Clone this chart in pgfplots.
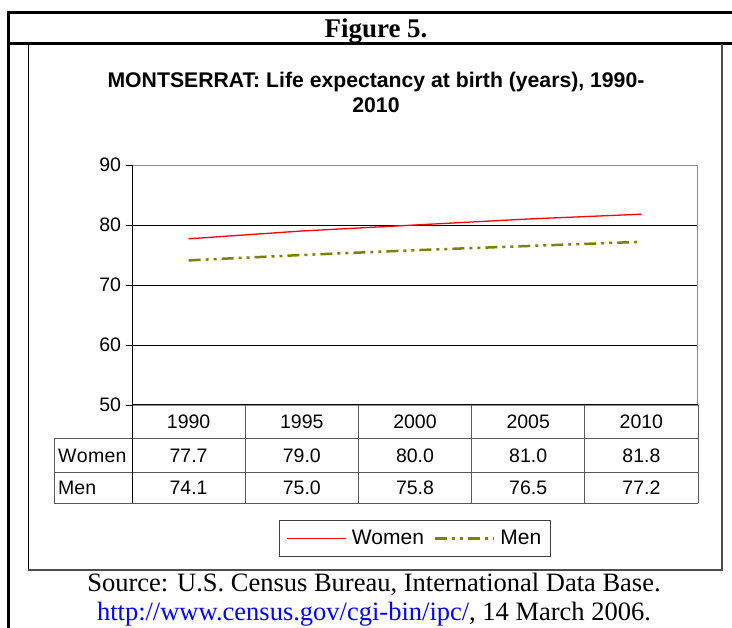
\documentclass[border=0pt]{standalone}
\usepackage{pgfplots}
\pgfplotsset{compat=1.18}
\usepackage{fontspec}
\setmainfont{Liberation Sans}
\newfontfamily\serif{Liberation Serif}
\definecolor{menolive}{RGB}{128,128,0}
\definecolor{urlblue}{RGB}{0,0,255}
\definecolor{tblgray}{RGB}{90,90,90}
\begin{document}
\begin{tikzpicture}
\begin{scope}[x=1pt,y=-1pt]
\useasboundingbox (0,0) rectangle (732,628);
% outer frame
\draw[line width=2.2pt] (7.4,12.5) -- (740,12.5);
\draw[line width=2.2pt] (7.4,43.5) -- (740,43.5);
\draw[line width=2.2pt] (8.5,11.4) -- (8.5,640);
% inner box
\draw[line width=1pt] (28.5,43.5) -- (28.5,570);
\draw[line width=2pt, black!70] (28,570) -- (722,570) -- (722,44.5);
\node[font=\serif\bfseries\fontsize{27}{30}\selectfont, anchor=base] at (376,38) {Figure 5.};
\node[font=\bfseries\fontsize{21.2}{24}\selectfont, anchor=base] at (376,87.5) {MONTSERRAT: Life expectancy at birth (years), 1990-};
\node[font=\bfseries\fontsize{21.2}{24}\selectfont, anchor=base] at (376,112.5) {2010};
% source
\node[font=\serif\fontsize{26.5}{30}\selectfont, anchor=base] at (374,591) {Source: U.S. Census Bureau, International Data Base.};
\node[font=\serif\fontsize{26.5}{30}\selectfont, anchor=base] at (374,620) {{\color{urlblue}http://www.census.gov/cgi-bin/ipc/}, 14 March 2006.};
\end{scope}

\begin{axis}[
  at={(132pt,-405pt)}, anchor=south west,
  scale only axis, width=566pt, height=240pt,
  xmin=-0.5, xmax=4.5, ymin=50, ymax=90,
  xtick=\empty, ytick={50,60,70,80,90}, ytick pos=left,
  ymajorgrids, grid style={black, line width=0.8pt},
  axis line style={black!45, line width=1pt},
  tick align=outside, major tick length=6pt,
  ytick style={black, line width=0.8pt},
  yticklabel style={font=\fontsize{19.5}{22}\selectfont, xshift=-1.5pt},
  /pgf/number format/assume math mode=true,
  clip=false,
  legend columns=2,
  legend style={at={(0.5,-0.55625)}, anchor=center, draw=black!75, line width=1pt,
    font=\fontsize{21}{25}\selectfont, inner xsep=7pt, inner ysep=8pt,
    /tikz/every odd column/.append style={column sep=3pt},
    /tikz/every even column/.append style={column sep=8pt}},
  legend image code/.code={\draw[#1] (0pt,0pt) -- (59pt,0pt);},
]
\addplot[red, line width=1.3pt] coordinates {(0,77.7) (1,79.0) (2,80.0) (3,81.0) (4,81.8)};
\addlegendentry{Women}
\addplot[menolive, line width=2.5pt, dash pattern=on 12pt off 5pt on 3pt off 5pt on 3pt off 5pt] coordinates {(0,74.1) (1,75.0) (2,75.8) (3,76.5) (4,77.2)};
\addlegendentry{Men}
\end{axis}

\begin{scope}[x=1pt,y=-1pt]
% table
\draw[tblgray, line width=1pt] (54,438.5) -- (698,438.5);
\draw[tblgray, line width=1pt] (54,472.3) -- (698,472.3);
\draw[tblgray, line width=1pt] (54,503.3) -- (698,503.3);
\draw[tblgray, line width=1pt] (54,438.5) -- (54,503.3);
\foreach \x in {245.2,358.4,471.6,584.8,698} {\draw[tblgray, line width=1pt] (\x,405) -- (\x,503.3);}
\draw[black, line width=1pt] (132,165) -- (132,503.3);
\draw[black, line width=1pt] (132,405) -- (698,405);
\begin{scope}[every node/.style={font=\fontsize{19.5}{22}\selectfont}]
\foreach \lab [count=\i from 0] in {1990,1995,2000,2005,2010} {\node at (188.6+113.2*\i,421.8) {\lab};}
\foreach \lab [count=\i from 0] in {77.7,79.0,80.0,81.0,81.8} {\node at (188.6+113.2*\i,455.5) {\lab};}
\foreach \lab [count=\i from 0] in {74.1,75.0,75.8,76.5,77.2} {\node at (188.6+113.2*\i,488) {\lab};}
\node[anchor=west, inner sep=0pt] at (58,455.5) {W\kern0.3pt o\kern0.3pt m\kern0.3pt e\kern0.3pt n};
\node[anchor=west, inner sep=0pt] at (58,488) {Men};
\end{scope}
\end{scope}
\end{tikzpicture}
\end{document}
